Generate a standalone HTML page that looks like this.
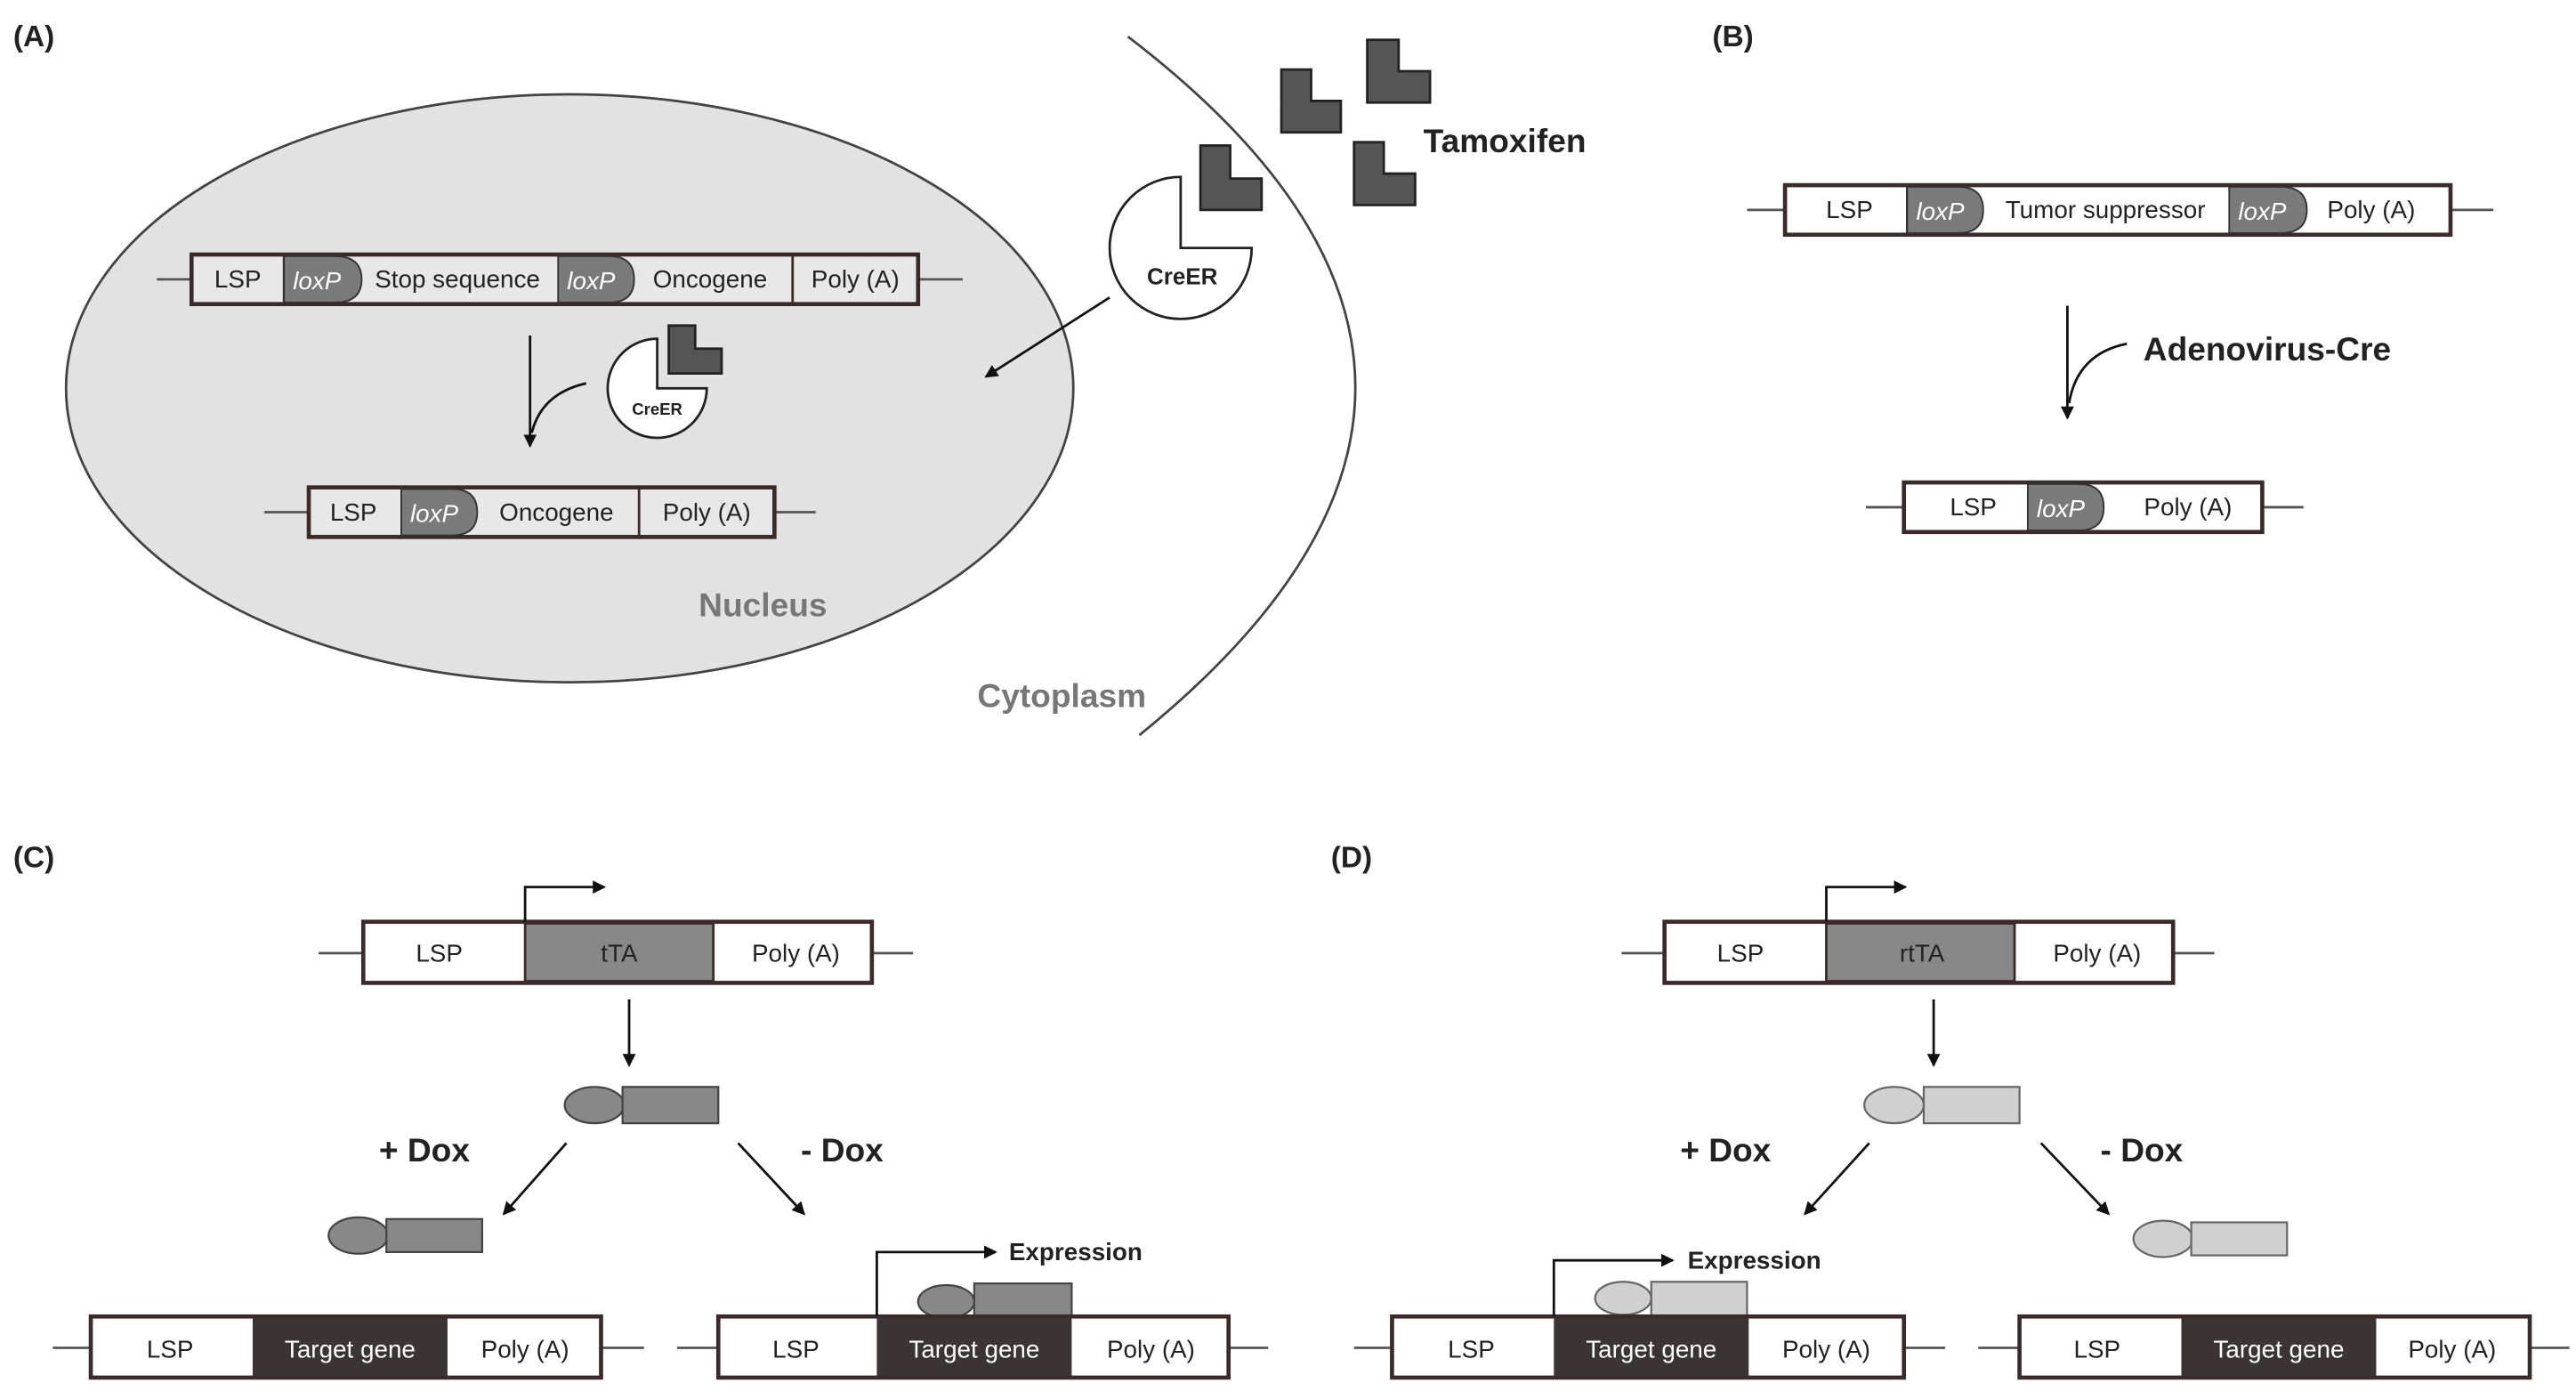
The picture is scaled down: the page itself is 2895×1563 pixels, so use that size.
<!DOCTYPE html>
<html><head><meta charset="utf-8"><style>
html,body{margin:0;padding:0;background:#fff;}
svg{display:block;}
text{font-family:"Liberation Sans",Arial,sans-serif;}
</style></head><body>
<svg width="2895" height="1563" viewBox="0 0 1560 842" xmlns="http://www.w3.org/2000/svg">
<defs>
<marker id="ah" markerWidth="8" markerHeight="8" refX="7" refY="4" orient="auto" markerUnits="userSpaceOnUse">
<path d="M0,0 L8,4 L0,8 Z" fill="#111"/></marker>
</defs>
<g font-size="15" fill="#222">
<!-- Panel A -->
<text x="8" y="28" font-size="18" font-weight="bold">(A)</text>
<ellipse cx="345" cy="235" rx="305" ry="178" fill="#e2e2e2" stroke="#444" stroke-width="1.5"/>
<path d="M683,22 Q955,230 690,445" fill="none" stroke="#444" stroke-width="1.5"/>
<g fill="#555" stroke="#222" stroke-width="1.5">
<path d="M776,42 h18 v19 h18 v19 h-36 Z"/>
<path d="M828,24 h19 v19 h19 v19 h-38 Z"/>
<path d="M820,86 h18 v19 h19 v19 h-37 Z"/>
<path d="M727,88 h18 v20 h19 v19 h-37 Z"/>
<path d="M405,197 h16 v14 h16 v15 h-32 Z"/>
</g>
<text x="862" y="92" font-size="20" font-weight="bold">Tamoxifen</text>
<path d="M715,150 L715,107 A43,43 0 1 0 758,150 Z" fill="#fff" stroke="#222" stroke-width="1.5"/>
<text x="716" y="172" font-size="14" font-weight="bold" text-anchor="middle">CreER</text>
<line x1="672" y1="180" x2="597" y2="228" stroke="#111" stroke-width="1.5" marker-end="url(#ah)"/>
<path d="M398,235 L398,205 A30,30 0 1 0 428,235 Z" fill="#fff" stroke="#222" stroke-width="1.5"/>
<text x="398" y="251" font-size="10" font-weight="bold" text-anchor="middle">CreER</text>
<line x1="321" y1="203" x2="321" y2="270" stroke="#111" stroke-width="1.5" marker-end="url(#ah)"/>
<path d="M355,232 Q328,238 322,262" fill="none" stroke="#111" stroke-width="1.5"/>

<!-- construct A1 -->
<g stroke="#555" stroke-width="1.5"><line x1="95" y1="169" x2="116" y2="169"/><line x1="556" y1="169" x2="583" y2="169"/></g>
<rect x="116" y="154" width="440" height="30" fill="#e8e8e8" stroke="#3a2a2a" stroke-width="2.5"/>
<line x1="172" y1="154" x2="172" y2="184" stroke="#3a2a2a" stroke-width="1.5"/>
<line x1="480" y1="154" x2="480" y2="184" stroke="#3a2a2a" stroke-width="1.5"/>
<path d="M172,155 L203,155 Q219,155 219,169 Q219,183 203,183 L172,183 Z" fill="#7a7a7a" stroke="#333" stroke-width="1"/>
<path d="M338,155 L369,155 Q384,155 384,169 Q384,183 369,183 L338,183 Z" fill="#7a7a7a" stroke="#333" stroke-width="1"/>
<text x="144" y="174" text-anchor="middle">LSP</text>
<text x="192" y="175" text-anchor="middle" fill="#fff" font-style="italic">loxP</text>
<text x="277" y="174" text-anchor="middle">Stop sequence</text>
<text x="358" y="175" text-anchor="middle" fill="#fff" font-style="italic">loxP</text>
<text x="430" y="174" text-anchor="middle">Oncogene</text>
<text x="518" y="174" text-anchor="middle">Poly (A)</text>

<!-- construct A2 -->
<g stroke="#555" stroke-width="1.5"><line x1="160" y1="310" x2="187" y2="310"/><line x1="469" y1="310" x2="494" y2="310"/></g>
<rect x="187" y="295" width="282" height="30" fill="#e8e8e8" stroke="#3a2a2a" stroke-width="2.5"/>
<line x1="387" y1="295" x2="387" y2="325" stroke="#3a2a2a" stroke-width="1.5"/>
<path d="M243,296 L274,296 Q289,296 289,310 Q289,324 274,324 L243,324 Z" fill="#7a7a7a" stroke="#333" stroke-width="1"/>
<text x="214" y="315" text-anchor="middle">LSP</text>
<text x="263" y="316" text-anchor="middle" fill="#fff" font-style="italic">loxP</text>
<text x="337" y="315" text-anchor="middle">Oncogene</text>
<text x="428" y="315" text-anchor="middle">Poly (A)</text>

<text x="462" y="373" font-size="20" font-weight="bold" fill="#777" text-anchor="middle">Nucleus</text>
<text x="643" y="428" font-size="20" font-weight="bold" fill="#777" text-anchor="middle">Cytoplasm</text>

<!-- Panel B -->
<text x="1037" y="28" font-size="18" font-weight="bold">(B)</text>
<g stroke="#555" stroke-width="1.5"><line x1="1058" y1="127" x2="1081" y2="127"/><line x1="1484" y1="127" x2="1510" y2="127"/></g>
<rect x="1081" y="112" width="403" height="30" fill="#fff" stroke="#3a2a2a" stroke-width="2.5"/>
<line x1="1155" y1="112" x2="1155" y2="142" stroke="#3a2a2a" stroke-width="1.5"/>
<path d="M1155,113 L1186,113 Q1201,113 1201,127 Q1201,141 1186,141 L1155,141 Z" fill="#7a7a7a" stroke="#333" stroke-width="1"/>
<path d="M1350,113 L1381,113 Q1397,113 1397,127 Q1397,141 1381,141 L1350,141 Z" fill="#7a7a7a" stroke="#333" stroke-width="1"/>
<text x="1120" y="132" text-anchor="middle">LSP</text>
<text x="1175" y="133" text-anchor="middle" fill="#fff" font-style="italic">loxP</text>
<text x="1275" y="132" text-anchor="middle">Tumor suppressor</text>
<text x="1370" y="133" text-anchor="middle" fill="#fff" font-style="italic">loxP</text>
<text x="1436" y="132" text-anchor="middle">Poly (A)</text>
<line x1="1252" y1="185" x2="1252" y2="253" stroke="#111" stroke-width="1.5" marker-end="url(#ah)"/>
<path d="M1288,208 Q1258,214 1253,244" fill="none" stroke="#111" stroke-width="1.5"/>
<text x="1298" y="218" font-size="20" font-weight="bold">Adenovirus-Cre</text>
<g stroke="#555" stroke-width="1.5"><line x1="1130" y1="307" x2="1153" y2="307"/><line x1="1370" y1="307" x2="1395" y2="307"/></g>
<rect x="1153" y="292" width="217" height="30" fill="#fff" stroke="#3a2a2a" stroke-width="2.5"/>
<path d="M1228,293 L1259,293 Q1274,293 1274,307 Q1274,321 1259,321 L1228,321 Z" fill="#7a7a7a" stroke="#333" stroke-width="1"/>
<text x="1195" y="312" text-anchor="middle">LSP</text>
<text x="1248" y="313" text-anchor="middle" fill="#fff" font-style="italic">loxP</text>
<text x="1325" y="312" text-anchor="middle">Poly (A)</text>

<!-- Panel C -->
<text x="8" y="525" font-size="18" font-weight="bold">(C)</text>
<g stroke="#555" stroke-width="1.5"><line x1="193" y1="577" x2="220" y2="577"/><line x1="528" y1="577" x2="553" y2="577"/></g>
<rect x="220" y="558" width="308" height="37" fill="#fff" stroke="#3a2a2a" stroke-width="2.5"/>
<rect x="318" y="559" width="114" height="35" fill="#888" stroke="#3a2a2a" stroke-width="1.5"/>
<text x="266" y="582" text-anchor="middle">LSP</text>
<text x="375" y="582" text-anchor="middle">tTA</text>
<text x="482" y="582" text-anchor="middle">Poly (A)</text>
<path d="M318,558 L318,537 L366,537" fill="none" stroke="#111" stroke-width="1.5" marker-end="url(#ah)"/>
<line x1="381" y1="605" x2="381" y2="645" stroke="#111" stroke-width="1.5" marker-end="url(#ah)"/>
<g fill="#888" stroke="#444" stroke-width="1.2">
<ellipse cx="360" cy="669" rx="18" ry="11"/><rect x="377" y="658" width="58" height="22"/>
<ellipse cx="217" cy="748" rx="18" ry="11"/><rect x="234" y="738" width="58" height="20"/>
<ellipse cx="573" cy="788" rx="17" ry="10"/><rect x="590" y="777" width="59" height="20"/>
</g>
<text x="257" y="703" font-size="20" font-weight="bold" text-anchor="middle">+ Dox</text>
<text x="510" y="703" font-size="20" font-weight="bold" text-anchor="middle">- Dox</text>
<line x1="343" y1="692" x2="305" y2="735" stroke="#111" stroke-width="1.5" marker-end="url(#ah)"/>
<line x1="447" y1="692" x2="487" y2="735" stroke="#111" stroke-width="1.5" marker-end="url(#ah)"/>
<g stroke="#555" stroke-width="1.5"><line x1="32" y1="816" x2="55" y2="816"/><line x1="364" y1="816" x2="390" y2="816"/><line x1="410" y1="816" x2="435" y2="816"/><line x1="744" y1="816" x2="768" y2="816"/></g>
<rect x="55" y="797" width="309" height="37" fill="#fff" stroke="#3a2a2a" stroke-width="2.5"/>
<rect x="153" y="798" width="118" height="35" fill="#3a3534"/>
<text x="103" y="822" text-anchor="middle">LSP</text>
<text x="212" y="822" text-anchor="middle" fill="#fff">Target gene</text>
<text x="318" y="822" text-anchor="middle">Poly (A)</text>
<rect x="435" y="797" width="309" height="37" fill="#fff" stroke="#3a2a2a" stroke-width="2.5"/>
<rect x="531" y="798" width="118" height="35" fill="#3a3534"/>
<text x="482" y="822" text-anchor="middle">LSP</text>
<text x="590" y="822" text-anchor="middle" fill="#fff">Target gene</text>
<text x="697" y="822" text-anchor="middle">Poly (A)</text>
<path d="M531,797 L531,758 L603,758" fill="none" stroke="#111" stroke-width="1.5" marker-end="url(#ah)"/>
<text x="611" y="763" font-size="15" font-weight="bold">Expression</text>

<!-- Panel D -->
<text x="806" y="525" font-size="18" font-weight="bold">(D)</text>
<g stroke="#555" stroke-width="1.5"><line x1="982" y1="577" x2="1008" y2="577"/><line x1="1316" y1="577" x2="1341" y2="577"/></g>
<rect x="1008" y="558" width="308" height="37" fill="#fff" stroke="#3a2a2a" stroke-width="2.5"/>
<rect x="1106" y="559" width="114" height="35" fill="#888" stroke="#3a2a2a" stroke-width="1.5"/>
<text x="1054" y="582" text-anchor="middle">LSP</text>
<text x="1164" y="582" text-anchor="middle">rtTA</text>
<text x="1270" y="582" text-anchor="middle">Poly (A)</text>
<path d="M1106,558 L1106,537 L1154,537" fill="none" stroke="#111" stroke-width="1.5" marker-end="url(#ah)"/>
<line x1="1171" y1="605" x2="1171" y2="645" stroke="#111" stroke-width="1.5" marker-end="url(#ah)"/>
<g fill="#d0d0d0" stroke="#666" stroke-width="1.2">
<ellipse cx="1147" cy="669" rx="18" ry="11"/><rect x="1165" y="658" width="58" height="22"/>
<ellipse cx="1310" cy="750" rx="18" ry="11"/><rect x="1327" y="740" width="58" height="20"/>
<ellipse cx="983" cy="786" rx="17" ry="10"/><rect x="1000" y="776" width="58" height="21"/>
</g>
<text x="1045" y="703" font-size="20" font-weight="bold" text-anchor="middle">+ Dox</text>
<text x="1297" y="703" font-size="20" font-weight="bold" text-anchor="middle">- Dox</text>
<line x1="1132" y1="692" x2="1093" y2="735" stroke="#111" stroke-width="1.5" marker-end="url(#ah)"/>
<line x1="1236" y1="692" x2="1277" y2="735" stroke="#111" stroke-width="1.5" marker-end="url(#ah)"/>
<g stroke="#555" stroke-width="1.5"><line x1="820" y1="816" x2="843" y2="816"/><line x1="1153" y1="816" x2="1178" y2="816"/><line x1="1198" y1="816" x2="1223" y2="816"/><line x1="1532" y1="816" x2="1556" y2="816"/></g>
<rect x="843" y="797" width="310" height="37" fill="#fff" stroke="#3a2a2a" stroke-width="2.5"/>
<rect x="941" y="798" width="118" height="35" fill="#3a3534"/>
<text x="891" y="822" text-anchor="middle">LSP</text>
<text x="1000" y="822" text-anchor="middle" fill="#fff">Target gene</text>
<text x="1106" y="822" text-anchor="middle">Poly (A)</text>
<rect x="1223" y="797" width="309" height="37" fill="#fff" stroke="#3a2a2a" stroke-width="2.5"/>
<rect x="1321" y="798" width="118" height="35" fill="#3a3534"/>
<text x="1270" y="822" text-anchor="middle">LSP</text>
<text x="1380" y="822" text-anchor="middle" fill="#fff">Target gene</text>
<text x="1485" y="822" text-anchor="middle">Poly (A)</text>
<path d="M941,797 L941,763 L1013,763" fill="none" stroke="#111" stroke-width="1.5" marker-end="url(#ah)"/>
<text x="1022" y="768" font-size="15" font-weight="bold">Expression</text>
</g>
</svg>
</body></html>
